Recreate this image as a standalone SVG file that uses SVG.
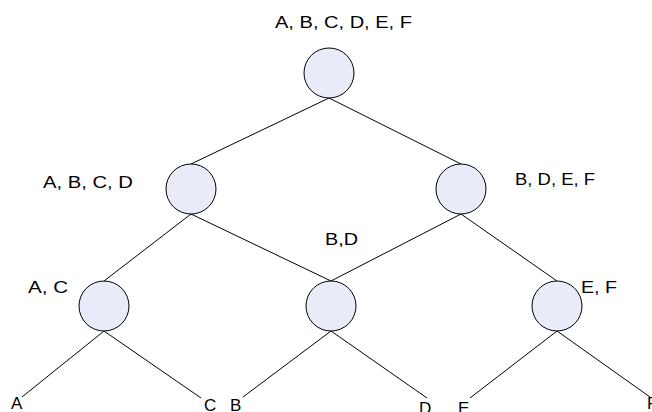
<svg xmlns="http://www.w3.org/2000/svg" width="652" height="412" viewBox="0 0 652 412">
<style>
.n{fill:#e8ecf8;stroke:#000;stroke-width:1}
.e{stroke:#000;stroke-width:1;fill:none}
text{font-family:"Liberation Sans",Arial,sans-serif;font-size:17px;fill:#000}
</style>
<rect width="652" height="412" fill="#fff"/>
<g id="connectors">
<line class="e" x1="329" y1="98" x2="191" y2="164"/>
<line class="e" x1="329" y1="98" x2="461" y2="164"/>
<line class="e" x1="191" y1="214" x2="104" y2="281"/>
<line class="e" x1="191" y1="214" x2="331" y2="281"/>
<line class="e" x1="461" y1="214" x2="331" y2="281"/>
<line class="e" x1="461" y1="214" x2="557" y2="281"/>
<line class="e" x1="104" y1="331" x2="22" y2="397"/>
<line class="e" x1="104" y1="331" x2="201" y2="398"/>
<line class="e" x1="331" y1="331" x2="243" y2="397"/>
<line class="e" x1="331" y1="331" x2="427" y2="398"/>
<line class="e" x1="557" y1="331" x2="470" y2="398"/>
<line class="e" x1="557" y1="331" x2="650" y2="397"/>
</g>
<g id="root"><circle class="n" cx="329" cy="73" r="25"/><text x="275" y="28" textLength="137" lengthAdjust="spacingAndGlyphs">A, B, C, D, E, F</text></g>
<g id="abcd"><circle class="n" cx="191" cy="189" r="25"/><text x="43" y="188" textLength="90" lengthAdjust="spacingAndGlyphs">A, B, C, D</text></g>
<g id="bdef"><circle class="n" cx="461" cy="189" r="25"/><text x="515" y="185" textLength="80" lengthAdjust="spacingAndGlyphs">B, D, E, F</text></g>
<g id="ac"><circle class="n" cx="104" cy="306" r="25"/><text x="28" y="293" textLength="40" lengthAdjust="spacingAndGlyphs">A, C</text></g>
<g id="bd"><circle class="n" cx="331" cy="306" r="25"/><text x="325" y="245" textLength="33" lengthAdjust="spacingAndGlyphs">B,D</text></g>
<g id="ef"><circle class="n" cx="557" cy="306" r="25"/><text x="581" y="293" textLength="36" lengthAdjust="spacingAndGlyphs">E, F</text></g>
<g id="leafA"><text x="11" y="409">A</text></g>
<g id="leafC"><text x="204" y="411">C</text></g>
<g id="leafB"><text x="230" y="411">B</text></g>
<g id="leafD"><text x="419" y="414">D</text></g>
<g id="leafE"><text x="458" y="414">E</text></g>
<g id="leafF"><text x="647" y="409">F</text></g>
</svg>
